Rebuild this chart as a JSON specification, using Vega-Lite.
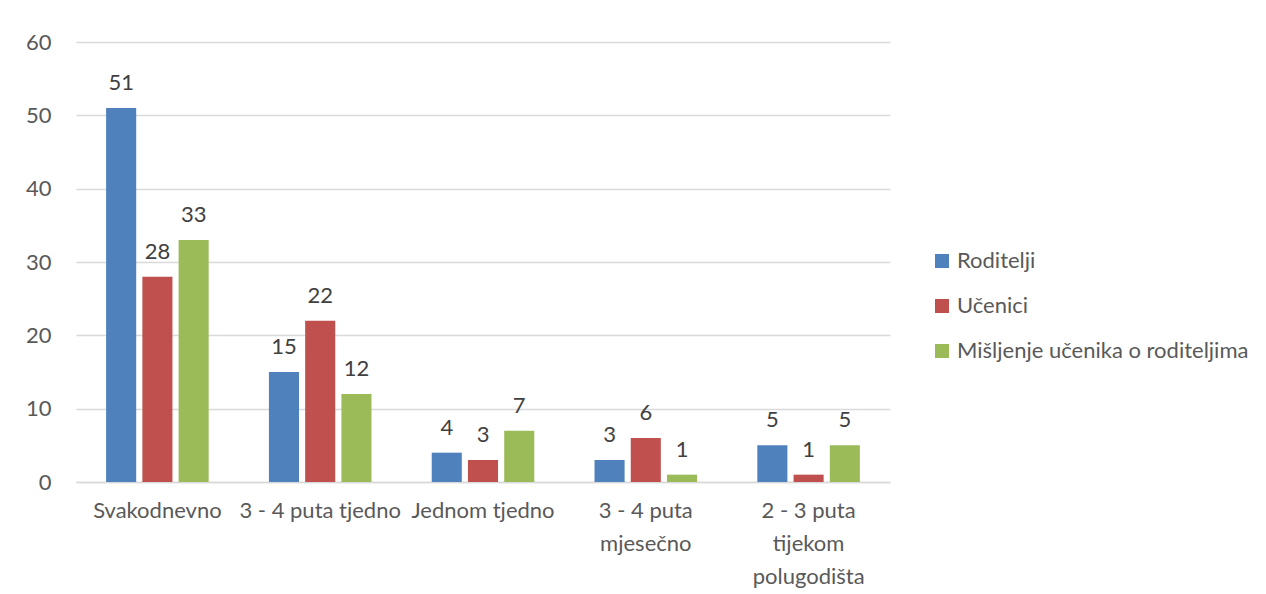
{
  "$schema": "https://vega.github.io/schema/vega-lite/v6.json",
  "autosize": {"type": "none"},
  "width": 814,
  "height": 440,
  "padding": {"left": 76, "top": 42, "right": 376, "bottom": 112},
  "background": "white",
  "config": {
    "view": {"stroke": null},
    "font": "Lato",
    "text": {"font": "Lato"}
  },
  "data": {
    "values": [
      {"kategorija": "Svakodnevno", "skupina": "Roditelji", "vrijednost": 51},
      {"kategorija": "Svakodnevno", "skupina": "Učenici", "vrijednost": 28},
      {"kategorija": "Svakodnevno", "skupina": "Mišljenje učenika o roditeljima", "vrijednost": 33},
      {"kategorija": "3 - 4 puta tjedno", "skupina": "Roditelji", "vrijednost": 15},
      {"kategorija": "3 - 4 puta tjedno", "skupina": "Učenici", "vrijednost": 22},
      {"kategorija": "3 - 4 puta tjedno", "skupina": "Mišljenje učenika o roditeljima", "vrijednost": 12},
      {"kategorija": "Jednom tjedno", "skupina": "Roditelji", "vrijednost": 4},
      {"kategorija": "Jednom tjedno", "skupina": "Učenici", "vrijednost": 3},
      {"kategorija": "Jednom tjedno", "skupina": "Mišljenje učenika o roditeljima", "vrijednost": 7},
      {"kategorija": "3 - 4 puta mjesečno", "skupina": "Roditelji", "vrijednost": 3},
      {"kategorija": "3 - 4 puta mjesečno", "skupina": "Učenici", "vrijednost": 6},
      {"kategorija": "3 - 4 puta mjesečno", "skupina": "Mišljenje učenika o roditeljima", "vrijednost": 1},
      {"kategorija": "2 - 3 puta tijekom polugodišta", "skupina": "Roditelji", "vrijednost": 5},
      {"kategorija": "2 - 3 puta tijekom polugodišta", "skupina": "Učenici", "vrijednost": 1},
      {"kategorija": "2 - 3 puta tijekom polugodišta", "skupina": "Mišljenje učenika o roditeljima", "vrijednost": 5}
    ]
  },
  "encoding": {
    "x": {
      "field": "kategorija",
      "type": "nominal",
      "sort": null,
      "title": null,
      "scale": {"paddingInner": 0.37, "paddingOuter": 0.185},
      "axis": {
        "labelAngle": 0,
        "labelFont": "Lato",
        "labelFontSize": 22,
        "labelColor": "#595959",
        "labelPadding": 18,
        "labelLineHeight": 33,
        "labelLimit": 200,
        "ticks": false,
        "domainColor": "#d9d9d9",
        "domainWidth": 1.5,
        "labelExpr": "datum.label == '3 - 4 puta mjesečno' ? ['3 - 4 puta', 'mjesečno'] : datum.label == '2 - 3 puta tijekom polugodišta' ? ['2 - 3 puta', 'tijekom', 'polugodišta'] : datum.label"
      }
    },
    "xOffset": {
      "field": "skupina",
      "type": "nominal",
      "sort": ["Roditelji", "Učenici", "Mišljenje učenika o roditeljima"],
      "scale": {"paddingInner": 0.17}
    },
    "y": {
      "field": "vrijednost",
      "type": "quantitative",
      "title": null,
      "scale": {"domain": [0, 60]},
      "axis": {
        "values": [0, 10, 20, 30, 40, 50, 60],
        "labelFont": "Lato",
        "labelFontSize": 22,
        "labelColor": "#595959",
        "labelPadding": 25,
        "ticks": false,
        "domain": false,
        "gridColor": "#d9d9d9",
        "gridWidth": 1.3
      }
    },
    "color": {
      "field": "skupina",
      "type": "nominal",
      "sort": ["Roditelji", "Učenici", "Mišljenje učenika o roditeljima"],
      "scale": {
        "domain": ["Roditelji", "Učenici", "Mišljenje učenika o roditeljima"],
        "range": ["#4f81bd", "#c0504d", "#9bbb59"]
      },
      "legend": {
        "title": null,
        "orient": "none",
        "legendX": 855,
        "legendY": 208,
        "symbolType": "square",
        "symbolSize": 196,
        "symbolStrokeWidth": 0,
        "labelFont": "Lato",
        "labelFontSize": 22,
        "labelColor": "#595959",
        "rowPadding": 23,
        "labelOffset": 4,
        "labelLimit": 400
      }
    }
  },
  "layer": [
    {"mark": {"type": "bar"}},
    {
      "mark": {"type": "text", "baseline": "bottom", "dy": -13, "fontSize": 22, "font": "Lato", "color": "#404040"},
      "encoding": {
        "text": {"field": "vrijednost", "type": "quantitative"},
        "color": {"value": "#404040"}
      }
    }
  ]
}
